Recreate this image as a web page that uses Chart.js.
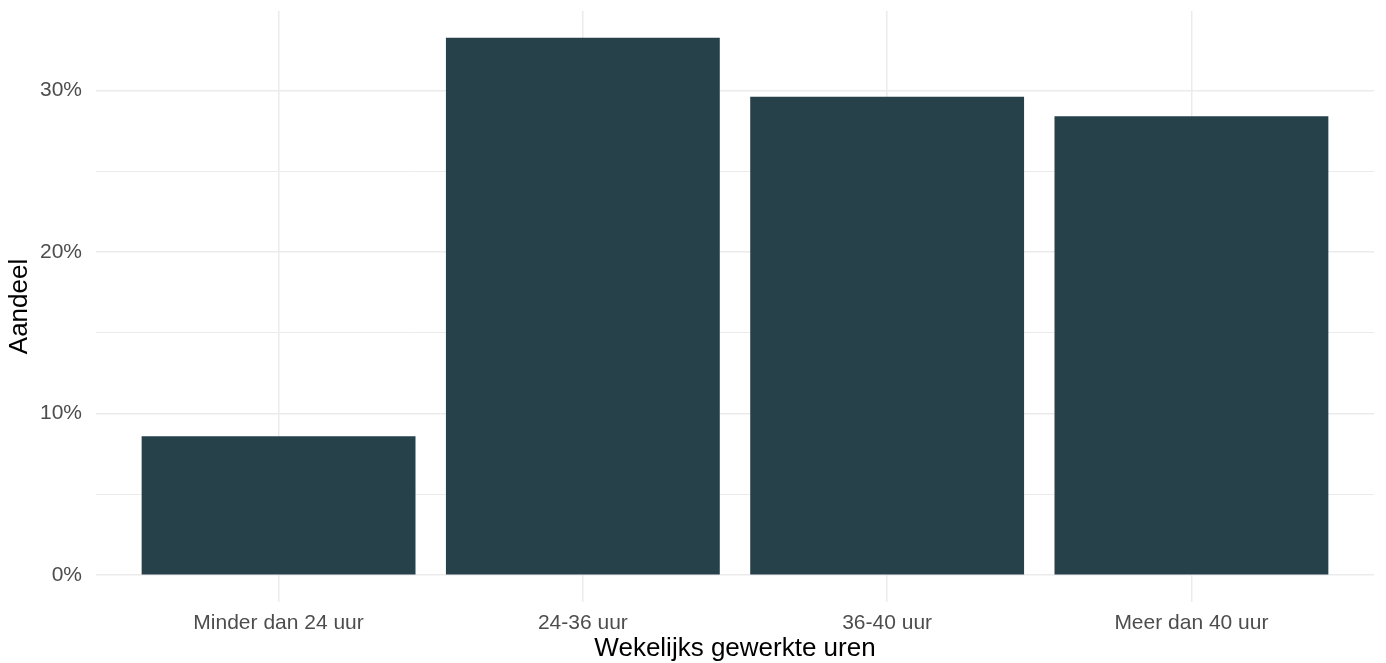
<!DOCTYPE html>
<html>
<head>
<meta charset="utf-8">
<script src="https://cdn.jsdelivr.net/npm/chart.js@4"></script>
<style>
  html, body { margin: 0; padding: 0; background: #fff; }
  #wrap { width: 1386px; height: 663px; }
</style>
</head>
<body>
<div id="wrap"><canvas id="grafiek"></canvas></div>
<script>
const categorieen = ["Minder dan 24 uur", "24-36 uur", "36-40 uur", "Meer dan 40 uur"];
const aandelen = [8.6, 33.25, 29.6, 28.4];
const hoofdTicks = [0, 10, 20, 30];
const alleTicks = [0, 5, 10, 15, 20, 25, 30];

const maxWaarde = Math.max(...aandelen);
const yMin = -maxWaarde * 0.05;
const yMax = maxWaarde * 1.05;

const punten = aandelen.map((v, i) => ({ x: i + 1, y: v }));

const ctx = document.getElementById("grafiek").getContext("2d");
new Chart(ctx, {
  type: "bar",
  data: {
    datasets: [{
      data: punten,
      backgroundColor: "#26414a",
      barPercentage: 0.9,
      categoryPercentage: 1.0,
    }]
  },
  options: {
    responsive: true,
    maintainAspectRatio: false,
    animation: false,
    layout: { padding: { top: 11, right: 12, left: 0, bottom: 0 } },
    plugins: {
      legend: { display: false },
      tooltip: { enabled: false }
    },
    scales: {
      x: {
        type: "linear",
        offset: false,
        min: 0.4,
        max: categorieen.length + 0.6,
        afterBuildTicks: s => { s.ticks = categorieen.map((c, i) => ({ value: i + 1 })); },
        afterFit: s => { s.height = 61; s.paddingLeft = 0; s.paddingRight = 0; },
        border: { display: false },
        grid: { color: "#ebebeb", lineWidth: 1.5, drawTicks: false, offset: false },
        ticks: {
          padding: 9,
          color: "#4d4d4d",
          font: { family: "Liberation Sans", size: 21 },
          maxRotation: 0,
          callback: v => categorieen[Math.round(v) - 1]
        },
        title: {
          display: true,
          text: "Wekelijks gewerkte uren",
          color: "#000",
          font: { family: "Liberation Sans", size: 26, lineHeight: 1 },
          padding: { top: 0, bottom: 1 }
        }
      },
      y: {
        min: yMin,
        max: yMax,
        afterBuildTicks: s => { s.ticks = alleTicks.map(v => ({ value: v })); },
        afterFit: s => { s.width = 96; s.paddingTop = 0; s.paddingBottom = 0; },
        border: { display: false },
        grid: {
          color: "#ebebeb",
          lineWidth: c => hoofdTicks.includes(c.tick && c.tick.value) ? 1.5 : 1,
          drawTicks: false
        },
        ticks: {
          padding: 14,
          color: "#4d4d4d",
          font: { family: "Liberation Sans", size: 21 },
          callback: v => hoofdTicks.includes(v) ? v + "%" : ""
        },
        title: {
          display: true,
          text: "Aandeel",
          color: "#000",
          font: { family: "Liberation Sans", size: 26, lineHeight: 1 },
          padding: { top: 7, bottom: 0 }
        }
      }
    }
  }
});
</script>
</body>
</html>
